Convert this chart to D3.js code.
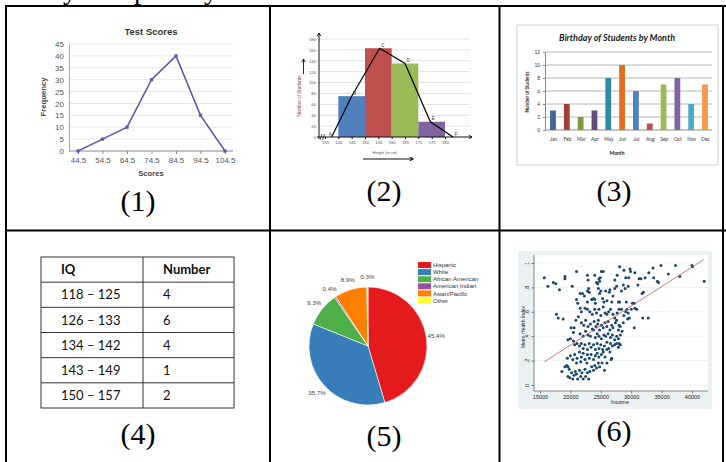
<!DOCTYPE html>
<html>
<head>
<meta charset="utf-8">
<script src="https://cdn.jsdelivr.net/npm/d3@7"></script>
<style>
body { margin: 0; background: #fff; }
svg { display: block; }
</style>
</head>
<body>
<div id="chart"></div>
<script>
// ---------- data ----------
// (1) frequency polygon
let scoreBins = ["44.5", "54.5", "64.5", "74.5", "84.5", "94.5", "104.5"];
let scoreFreq = [0, 5, 10, 30, 40, 15, 0];

// (2) histogram + polygon
let heightStarts = [140, 150, 160, 170];
let heightCounts = [75, 163, 135, 28];
let heightColors = ["#4f81bd", "#c0504d", "#9bbb59", "#8064a2"];
let polyNames = ["A", "B", "C", "D", "E", "F"];
let polyHeight = [137.5, 145, 155.5, 165, 174.5, 183];
let polyCount = [0, 75, 163, 135, 28, 0];
let heightTicks = [135, 140, 145, 150, 155, 160, 165, 170, 175, 180];

// (3) birthdays by month
let months = ["Jan", "Feb", "Mar", "Apr", "May", "Jun", "Jul", "Aug", "Sep", "Oct", "Nov", "Dec"];
let birthdays = [3, 4, 2, 3, 8, 10, 6, 1, 7, 8, 4, 7];
let monthColors = ["#3d6699", "#a33e3b", "#7a9a3d", "#634d80", "#318aa0", "#e07020",
                   "#4f81bd", "#c0504d", "#9bbb59", "#8064a2", "#4bacc6", "#f79646"];

// (4) IQ table
let iqRanges = ["118 – 125", "126 – 133", "134 – 142", "143 – 149", "150 – 157"];
let iqCounts = [4, 6, 4, 1, 2];

// (5) pie
let groups = ["Hispanic", "White", "African American", "American Indian", "Asian/Pacific", "Other"];
let groupShares = [45.4, 35.7, 9.3, 0.4, 8.9, 0.3];
let groupColors = ["#e41a1c", "#377eb8", "#4daf4a", "#984ea3", "#ff7f00", "#ffff33"];

// (6) scatter: [income, metro health index]
let scatterPoints = [
  [15700,.88],[16300,.81],[17200,.84],[17600,.83],[18200,.78],[19100,.89],[19100,.87],[20300,.81],
  [21000,.93],[22800,.90],[22900,.86],[24000,.90],[24700,.87],[24800,.85],[24900,.88],[25100,.93],
  [25400,.93],[27300,.86],[27700,.90],[28100,.97],[28800,.94],[29100,.88],[29600,.88],[29800,.95],
  [29900,.93],[30600,.92],[31100,.82],[31300,.87],[31600,.87],[31800,.75],[32000,.76],[32300,.88],
  [32900,.92],[33600,.96],[33700,.88],[34300,.85],[34500,.84],[34900,.98],[36100,.91],[37300,.98],
  [38000,.89],[40000,.98],[40100,.97],[42000,.85],
  [17700,.58],[18000,.55],[18800,.54],[20100,.47],[20600,.47],[20500,.43],
  [21000,.70],[21200,.67],[21600,.75],[22000,.75],[22300,.73],[22800,.77],[23000,.79],[23100,.76],
  [22800,.68],[23500,.70],[23800,.71],[24000,.70],[24100,.67],[24300,.84],[24500,.83],[24600,.79],
  [24800,.75],[25000,.77],[25300,.71],[25500,.68],[25800,.77],[26000,.69],[26400,.76],[26500,.78],
  [26800,.68],[27000,.73],[27300,.79],[27600,.81],[27900,.68],[28100,.68],[28400,.77],[28700,.82],
  [29000,.79],[29200,.68],[29500,.81],[30200,.67],[30500,.67],
  [21600,.63],[21800,.60],[22400,.63],[22800,.62],[23200,.60],[23600,.58],[24000,.62],[24300,.59],
  [24700,.62],[25000,.57],[25400,.64],[25700,.59],[26000,.58],[26300,.60],[26600,.62],[27000,.58],
  [27300,.55],[27700,.59],[28000,.62],[28400,.62],[28800,.57],[29100,.60],[29300,.62],[29500,.59],
  [29400,.54],[29700,.55],[30000,.62],[30600,.63],[30900,.62],[31900,.55],[32800,.55],[30500,.47],
  [20900,.53],[21300,.56],[21800,.51],[22200,.49],[22500,.53],[22900,.48],[23300,.50],[23600,.46],
  [23900,.52],[24200,.48],[24500,.50],[24600,.53],[24800,.45],[25100,.49],[25400,.47],[25700,.51],
  [26000,.48],[26200,.52],[26500,.45],[26800,.49],[27000,.47],[27400,.51],[27600,.53],[27900,.45],
  [28000,.49],[28200,.48],[28500,.44],[28700,.51],
  [21600,.42],[22100,.40],[22500,.44],[22900,.41],[23300,.40],[23800,.45],[24100,.39],[24400,.42],
  [24700,.40],[25100,.38],[25500,.41],[25800,.40],[26200,.42],[26600,.39],[26900,.41],[27300,.37],
  [27600,.40],[27900,.38],[28200,.41],
  [19600,.37],[20000,.38],[20500,.36],[20700,.33],[21100,.34],[21500,.32],[21800,.34],[22100,.30],
  [22400,.33],[22800,.29],[23100,.34],[23400,.31],[23800,.33],[24100,.29],[24400,.34],[24700,.30],
  [25000,.33],[25300,.29],[25600,.32],[26000,.35],[26300,.30],[26600,.34],[26900,.32],[27300,.33],
  [27600,.34],[27900,.31],[28000,.34],[28200,.33],
  [20700,.25],[21100,.22],[21500,.27],[21800,.23],[22100,.26],[22400,.21],[22800,.25],[23100,.22],
  [23400,.25],[23800,.21],[24100,.24],[24400,.26],[24700,.23],[25100,.25],[25400,.27],[25700,.23],
  [26000,.29],[26500,.27],[26800,.22],[19500,.22],[20000,.24],[20400,.21],
  [18600,.11],[19100,.15],[19400,.16],[19600,.15],[19800,.13],[19600,.07],[19900,.06],[20200,.10],
  [20400,.05],[20600,.08],[20800,.11],[21000,.09],[21200,.05],[21500,.12],[21700,.07],[21900,.10],
  [22100,.05],[22400,.13],[22500,.07],[22800,.10],[23000,.05],[23200,.11],[23500,.15],[23800,.12],
  [24000,.16],[24300,.14],[24600,.18],[24800,.15],[25200,.18],[25600,.12],[26000,.18],[26700,.21],
  [21000,.18],[21700,.19],[22700,.18]
];
let fitIncome = [15700, 42000];
let fitIndex = [0.19, 1.03];
let incomeTicks = [15000, 20000, 25000, 30000, 35000, 40000];
let indexTicks = [0, 0.2, 0.4, 0.6, 0.8, 1];

// ---------- page ----------
let svgWidth = 726;
let svgHeight = 462;
let sans = "'Liberation Sans', Arial, sans-serif";
let serif = "'Liberation Serif', 'Times New Roman', serif";

let svg = d3.select("#chart")
    .append("svg")
    .attr("width", svgWidth)
    .attr("height", svgHeight)
    .style("font-family", sans);

svg.append("rect").attr("width", svgWidth).attr("height", svgHeight).attr("fill", "#fff");

// descenders of the cut-off line above the grid
[["y", 63], ["p", 134], ["y", 204]].forEach(([ch, x]) => {
    svg.append("text").attr("x", x).attr("y", -1)
        .style("font-family", serif).style("font-size", "28px").text(ch);
});

// grid frame
let frame = svg.append("g").attr("stroke", "#000").attr("stroke-width", 2);
frame.append("line").attr("x1", 5).attr("x2", svgWidth).attr("y1", 6).attr("y2", 6);
frame.append("line").attr("x1", 5).attr("x2", svgWidth).attr("y1", 230.5).attr("y2", 230.5);
[6, 270, 499.5, 723].forEach(x => {
    frame.append("line").attr("x1", x).attr("x2", x).attr("y1", 5).attr("y2", svgHeight);
});

// panel numbers
[["(1)", 138, 211], ["(2)", 384, 201], ["(3)", 614, 201],
 ["(4)", 138, 444], ["(5)", 384, 446], ["(6)", 614, 441]].forEach(([t, x, y]) => {
    svg.append("text").attr("x", x).attr("y", y).attr("text-anchor", "middle")
        .style("font-family", serif).style("font-size", "30px").text(t);
});

// ---------- (1) Test Scores ----------
let g1 = svg.append("g");
let x1 = d3.scalePoint().domain(scoreBins).range([78, 225]);
let y1 = d3.scaleLinear().domain([0, 45]).range([151, 44]);

g1.append("g").selectAll("line")
    .data(d3.range(5, 50, 5))
    .join("line")
    .attr("x1", 69).attr("x2", 233)
    .attr("y1", d => y1(d)).attr("y2", d => y1(d))
    .attr("stroke", "#e2e2e2").attr("stroke-width", 0.8);

let yAxis1 = g1.append("g")
    .attr("transform", "translate(69,0)")
    .call(d3.axisLeft(y1).tickValues(d3.range(0, 50, 5)).tickSize(0).tickPadding(5));
yAxis1.select(".domain").attr("stroke", "#aaa");

let xAxis1 = g1.append("g")
    .attr("transform", "translate(0,151)")
    .call(d3.axisBottom(x1).tickSize(3).tickPadding(3));
xAxis1.select(".domain").attr("stroke", "#888").attr("d", "M69,0H233");
xAxis1.selectAll(".tick line").attr("stroke", "#888");

g1.selectAll(".tick text").style("font-family", sans).style("font-size", "8px").attr("fill", "#555");

g1.append("path")
    .datum(scoreFreq)
    .attr("fill", "none")
    .attr("stroke", "#5b5cab")
    .attr("stroke-width", 1.6)
    .attr("d", d3.line().x((d, i) => x1(scoreBins[i])).y(d => y1(d)));

g1.selectAll("rect.mk")
    .data(scoreFreq)
    .join("rect")
    .attr("class", "mk")
    .attr("x", (d, i) => x1(scoreBins[i]) - 1.6)
    .attr("y", d => y1(d) - 1.6)
    .attr("width", 3.2).attr("height", 3.2)
    .attr("fill", "#5b5cab");

g1.append("text").attr("x", 151).attr("y", 35).attr("text-anchor", "middle")
    .style("font-size", "9.5px").style("font-weight", "bold").attr("fill", "#333").text("Test Scores");
g1.append("text").attr("x", 151).attr("y", 176).attr("text-anchor", "middle")
    .style("font-size", "7.7px").style("font-weight", "bold").attr("fill", "#444").text("Scores");
g1.append("text").attr("transform", "translate(46,97) rotate(-90)").attr("text-anchor", "middle")
    .style("font-size", "7.7px").style("font-weight", "bold").attr("fill", "#444").text("Frequency");

// ---------- (2) Heights ----------
let g2 = svg.append("g");
let x2 = d3.scaleLinear().domain([135, 180]).range([325, 445]);
let y2 = d3.scaleLinear().domain([0, 180]).range([137, 39]);

g2.append("g").selectAll("line")
    .data(d3.range(20, 200, 20))
    .join("line")
    .attr("x1", 319).attr("x2", 470)
    .attr("y1", d => y2(d)).attr("y2", d => y2(d))
    .attr("stroke", "#d6d6d6").attr("stroke-width", 0.7);

g2.selectAll("rect.bar")
    .data(heightCounts)
    .join("rect")
    .attr("class", "bar")
    .attr("x", (d, i) => x2(heightStarts[i]))
    .attr("width", (d, i) => x2(heightStarts[i] + 10) - x2(heightStarts[i]))
    .attr("y", d => y2(d))
    .attr("height", d => y2(0) - y2(d))
    .attr("fill", (d, i) => heightColors[i]);

let yAxis2 = g2.append("g")
    .attr("transform", "translate(319,0)")
    .call(d3.axisLeft(y2).tickValues(d3.range(0, 200, 20)).tickSize(0).tickPadding(3));
yAxis2.select(".domain").remove();

let xAxis2 = g2.append("g")
    .attr("transform", "translate(0,137)")
    .call(d3.axisBottom(x2).tickValues(heightTicks).tickSize(2).tickPadding(2));
xAxis2.select(".domain").remove();
g2.selectAll(".tick text").style("font-family", sans).style("font-size", "4.2px").attr("fill", "#555");

// axis arrows
let arrow = (g, x1a, y1a, x2a, y2a, w) => {
    g.append("line").attr("x1", x1a).attr("y1", y1a).attr("x2", x2a).attr("y2", y2a)
        .attr("stroke", "#111").attr("stroke-width", w);
    let ang = Math.atan2(y2a - y1a, x2a - x1a);
    let hs = 3.5;
    g.append("path")
        .attr("d", `M${x2a - hs * Math.cos(ang - 0.5)},${y2a - hs * Math.sin(ang - 0.5)}L${x2a},${y2a}L${x2a - hs * Math.cos(ang + 0.5)},${y2a - hs * Math.sin(ang + 0.5)}`)
        .attr("fill", "none").attr("stroke", "#111").attr("stroke-width", w);
};
arrow(g2, 319, 139, 319, 33, 1);
arrow(g2, 317, 137, 472, 137, 1);
arrow(g2, 303.5, 74, 303.5, 59, 0.9);
arrow(g2, 363, 159, 413, 159, 1.1);

// axis break marks
g2.append("path").attr("d", "M320,140L322,134M322.5,140L324.5,134")
    .attr("stroke", "#111").attr("stroke-width", 0.7).attr("fill", "none");

g2.append("path")
    .datum(polyCount)
    .attr("fill", "none")
    .attr("stroke", "#000")
    .attr("stroke-width", 1.2)
    .attr("d", d3.line().x((d, i) => x2(polyHeight[i])).y(d => y2(d)));

g2.selectAll("text.pt")
    .data(polyNames)
    .join("text")
    .attr("class", "pt")
    .attr("x", (d, i) => x2(polyHeight[i]) + (i === 0 ? -3 : 1.5))
    .attr("y", (d, i) => y2(polyCount[i]) - 1.5)
    .style("font-size", "4.5px").attr("fill", "#333").text(d => d);

g2.append("text").attr("x", 385).attr("y", 154).attr("text-anchor", "middle")
    .style("font-size", "4px").attr("fill", "#555").text("Height (in cm)");
g2.append("text").attr("transform", "translate(301,96) rotate(-90)").attr("text-anchor", "middle")
    .style("font-size", "4.6px").attr("fill", "#8b3a3a").text("Number of Students");

// ---------- (3) Birthdays ----------
let g3 = svg.append("g").style("font-family", "Lato, 'Open Sans', sans-serif");
let x3 = d3.scalePoint().domain(months).range([553, 705]);
let y3 = d3.scaleLinear().domain([0, 12]).range([130, 52]);

g3.append("rect").attr("x", 517).attr("y", 25).attr("width", 201).attr("height", 140)
    .attr("fill", "#fff").attr("stroke", "#c4c4c4").attr("stroke-width", 0.8);

g3.append("g").selectAll("line")
    .data(d3.range(2, 14, 2))
    .join("line")
    .attr("x1", 545).attr("x2", 712)
    .attr("y1", d => y3(d)).attr("y2", d => y3(d))
    .attr("stroke", "#9a9a9a").attr("stroke-width", 0.7);

let yAxis3 = g3.append("g")
    .attr("transform", "translate(545,0)")
    .call(d3.axisLeft(y3).tickValues(d3.range(0, 14, 2)).tickSize(2).tickPadding(3));
let xAxis3 = g3.append("g")
    .attr("transform", "translate(0,130)")
    .call(d3.axisBottom(x3).tickSize(0).tickPadding(8));
xAxis3.select(".domain").attr("d", "M545,0H712");
g3.selectAll(".domain, .tick line").attr("stroke", "#8a8a8a");
g3.selectAll(".tick text").style("font-family", "Lato, sans-serif").style("font-size", "4.8px").attr("fill", "#333");

g3.selectAll("rect.bar")
    .data(birthdays)
    .join("rect")
    .attr("class", "bar")
    .attr("x", (d, i) => x3(months[i]) - 2.9)
    .attr("width", 5.8)
    .attr("y", d => y3(d))
    .attr("height", d => y3(0) - y3(d))
    .attr("fill", (d, i) => monthColors[i]);

g3.append("text").attr("x", 617).attr("y", 41).attr("text-anchor", "middle")
    .style("font-size", "9px").style("font-weight", "bold").style("font-style", "italic")
    .attr("fill", "#1a1a1a").text("Birthday of Students by Month");
g3.append("text").attr("x", 617).attr("y", 155).attr("text-anchor", "middle")
    .style("font-size", "5px").style("font-weight", "bold").attr("fill", "#222").text("Month");
g3.append("text").attr("transform", "translate(529,92) rotate(-90)").attr("text-anchor", "middle")
    .style("font-size", "4.6px").style("font-weight", "bold").attr("fill", "#222").text("Number of Students");

// ---------- (4) IQ table ----------
let g4 = svg.append("g").style("font-family", "Lato, 'Open Sans', sans-serif");
let rowsY = d3.scaleBand().domain(d3.range(iqRanges.length + 1)).range([257, 408]);
let colX = [41, 143, 234];

g4.append("rect").attr("x", colX[0]).attr("y", 257).attr("width", colX[2] - colX[0]).attr("height", 151)
    .attr("fill", "none").attr("stroke", "#333").attr("stroke-width", 1);
g4.append("line").attr("x1", colX[1]).attr("x2", colX[1]).attr("y1", 257).attr("y2", 408)
    .attr("stroke", "#333").attr("stroke-width", 1);
g4.selectAll("line.row")
    .data(d3.range(1, iqRanges.length + 1))
    .join("line")
    .attr("class", "row")
    .attr("x1", colX[0]).attr("x2", colX[2])
    .attr("y1", d => rowsY(d)).attr("y2", d => rowsY(d))
    .attr("stroke", "#333").attr("stroke-width", 1);

let cellText = (txt, col, row, bold) => {
    g4.append("text")
        .attr("x", colX[col] + 20)
        .attr("y", rowsY(row) + rowsY.bandwidth() / 2)
        .attr("dy", "0.36em")
        .style("font-size", "13px")
        .style("font-weight", bold ? "bold" : "normal")
        .attr("fill", "#111")
        .text(txt);
};
cellText("IQ", 0, 0, true);
cellText("Number", 1, 0, true);
iqRanges.forEach((r, i) => {
    cellText(r, 0, i + 1, false);
    cellText(iqCounts[i], 1, i + 1, false);
});

// ---------- (5) Pie ----------
let g5 = svg.append("g").attr("transform", "translate(368,346)");
let pie = d3.pie().sort(null).value(d => d);
let arcs = pie(groupShares);
let arc = d3.arc().innerRadius(0).outerRadius(59);
let labelArc = d3.arc().innerRadius(69).outerRadius(69);

g5.selectAll("path")
    .data(arcs)
    .join("path")
    .attr("d", arc)
    .attr("fill", (d, i) => groupColors[i])
    .attr("stroke", "#fff")
    .attr("stroke-width", 0.6);

g5.selectAll("text")
    .data(arcs)
    .join("text")
    .attr("transform", d => `translate(${labelArc.centroid(d)})`)
    .attr("text-anchor", "middle")
    .attr("dy", "0.35em")
    .style("font-size", "6.2px")
    .attr("fill", "#444")
    .text(d => d.data.toFixed(1) + "%");

let legend = svg.append("g").attr("transform", "translate(418,262)");
legend.selectAll("rect")
    .data(groups)
    .join("rect")
    .attr("x", 0).attr("y", (d, i) => i * 7.1)
    .attr("width", 13).attr("height", 6)
    .attr("fill", (d, i) => groupColors[i]);
legend.selectAll("text")
    .data(groups)
    .join("text")
    .attr("x", 15).attr("y", (d, i) => i * 7.1 + 3)
    .attr("dy", "0.35em")
    .style("font-size", "6px")
    .attr("fill", "#333")
    .text(d => d);

// ---------- (6) Scatter ----------
let g6 = svg.append("g");
let x6 = d3.scaleLinear().domain([15000, 40000]).range([540, 692]);
let y6 = d3.scaleLinear().domain([0, 1]).range([385, 263]);

g6.append("rect").attr("x", 518).attr("y", 251).attr("width", 194).attr("height", 158).attr("fill", "#eaf1f3");
g6.append("rect").attr("x", 534).attr("y", 255).attr("width", 174).attr("height", 136).attr("fill", "#fff");

g6.append("g").selectAll("line")
    .data(indexTicks)
    .join("line")
    .attr("x1", 534).attr("x2", 708)
    .attr("y1", d => y6(d)).attr("y2", d => y6(d))
    .attr("stroke", "#e6eef1").attr("stroke-width", 0.8);

let yAxis6 = g6.append("g")
    .attr("transform", "translate(534,0)")
    .call(d3.axisLeft(y6).tickValues(indexTicks).tickSize(2.5).tickPadding(2)
        .tickFormat(d => d === 0 ? "0" : d === 1 ? "1" : d3.format(".1f")(d).replace("0.", ".")));
yAxis6.select(".domain").attr("d", "M0,391V255");
yAxis6.selectAll(".tick text")
    .attr("transform", "rotate(-90)")
    .attr("x", 0).attr("y", -5.5)
    .attr("dy", "0")
    .attr("text-anchor", "middle");

let xAxis6 = g6.append("g")
    .attr("transform", "translate(0,391)")
    .call(d3.axisBottom(x6).tickValues(incomeTicks).tickSize(2.5).tickPadding(1.5).tickFormat(d3.format("d")));
xAxis6.select(".domain").attr("d", "M534,0H708");
g6.selectAll(".domain, .tick line").attr("stroke", "#333").attr("stroke-width", 0.6);
g6.selectAll(".tick text").style("font-family", sans).style("font-size", "5.5px").attr("fill", "#222");

g6.selectAll("circle")
    .data(scatterPoints)
    .join("circle")
    .attr("cx", d => x6(d[0]))
    .attr("cy", d => y6(d[1]))
    .attr("r", 1.5)
    .attr("fill", "#1a476f");

g6.append("line")
    .attr("x1", x6(fitIncome[0])).attr("y1", y6(fitIndex[0]))
    .attr("x2", x6(fitIncome[1])).attr("y2", y6(fitIndex[1]))
    .attr("stroke", "#c25a5a").attr("stroke-width", 0.8);

g6.append("text").attr("x", 620).attr("y", 404).attr("text-anchor", "middle")
    .style("font-size", "5.5px").attr("fill", "#222").text("Income");
g6.append("text").attr("transform", "translate(524.5,327) rotate(-90)").attr("text-anchor", "middle")
    .style("font-size", "5px").attr("fill", "#222").text("Metro Health Index");
</script>
</body>
</html>
